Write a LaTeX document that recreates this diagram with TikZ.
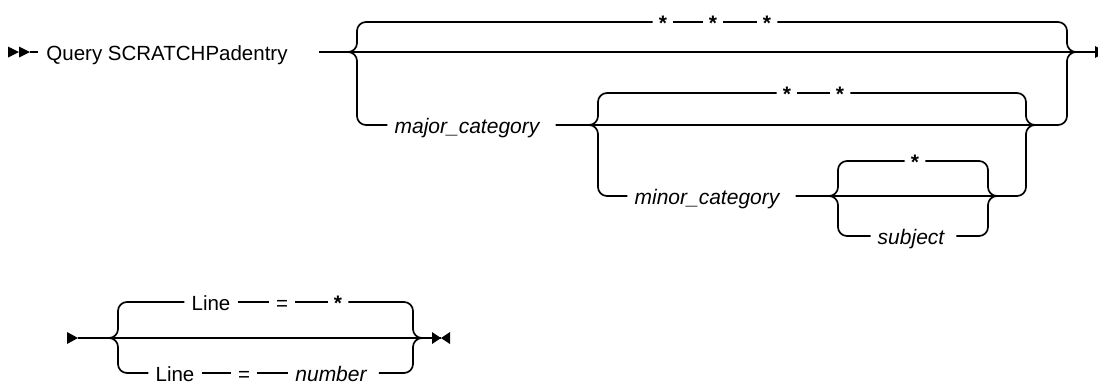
\documentclass[tikz,border=0pt]{standalone}
\usepackage{fontspec}
\setmainfont{Liberation Sans}
\usepackage{tikz}
\usetikzlibrary{calc}

\begin{document}
\begin{tikzpicture}[x=1pt, y=-1pt,
    rail/.style={line width=1.7pt, line join=round},
    brace/.style={rail, rounded corners=9pt},
    lbl/.style={inner xsep=7pt, inner ysep=0pt, text height=16pt, text depth=0pt,
                font=\fontsize{20.5}{24}\selectfont},
    var/.style={lbl, font=\fontsize{21}{24}\selectfont\itshape},
    star/.style={lbl, inner xsep=6pt, font=\fontsize{21}{24}\selectfont\bfseries},
    endmark/.style={fill=black, draw=none}]
    \useasboundingbox (0,0) rectangle (1098,386);

    % Query SCRATCHPadentry row
    \node[lbl] (q) at (167,52) {Query SCRATCHPadentry};
    \fill[endmark] (8,46.5) -- (19,52) -- (8,57.5) -- cycle;
    \fill[endmark] (19,46.5) -- (30,52) -- (19,57.5) -- cycle;
    \draw[rail] (30,52) -- (38,52);

    \coordinate (l1) at (357,52);
    \coordinate (r1) at (1067,52);
    \coordinate (end1) at (1095,52);
    \draw[rail] ([xshift=24pt]q.east) -- (end1);
    \fill[endmark] (1095,46) -- (1098,47.6) -- (1098,56.4) -- (1095,58) -- cycle;

    % * * * branch
    \node[star] (sa1) at (663,22) {*};
    \node[star] (sa2) at (713,22) {*};
    \node[star] (sa3) at (767,22) {*};
    \draw[brace] ([xshift=-15pt]l1) -- (l1) |- (sa1.west);
    \draw[rail] (sa1.east) -- (sa2.west);
    \draw[rail] (sa2.east) -- (sa3.west);
    \draw[brace] (sa3.east) -| (r1) -- ([xshift=15pt]r1);

    % major_category branch
    \node[var] (major) at (467,125) {major\_category};
    \coordinate (l2) at (598,125);
    \coordinate (r2) at (1026,125);
    \draw[brace] ([xshift=-15pt]l1) -- (l1) |- (major.west);
    \draw[brace] ([xshift=9pt]major.east) -- (l2) -- (r1 |- l2) -- (r1) -- ([xshift=15pt]r1);

    % * * branch
    \node[star] (sb1) at (787,93) {*};
    \node[star] (sb2) at (840,93) {*};
    \draw[brace] ([xshift=-15pt]l2) -- (l2) |- (sb1.west);
    \draw[rail] (sb1.east) -- (sb2.west);
    \draw[brace] (sb2.east) -| (r2) -- ([xshift=15pt]r2);

    % minor_category branch
    \node[var] (minor) at (707,196) {minor\_category};
    \coordinate (l3) at (838,196);
    \coordinate (r3) at (988,196);
    \draw[brace] ([xshift=-15pt]l2) -- (l2) |- (minor.west);
    \draw[brace] ([xshift=9pt]minor.east) -- (r2 |- l3) -- (r2) -- ([xshift=15pt]r2);

    % * or subject
    \node[star] (sc) at (915,161) {*};
    \node[var] (subj) at (911,236) {subject};
    \draw[brace] ([xshift=-15pt]l3) -- (l3) |- (sc.west);
    \draw[brace] (sc.east) -| (r3) -- ([xshift=15pt]r3);
    \draw[brace] ([xshift=-15pt]l3) -- (l3) |- (subj.west);
    \draw[brace] ([xshift=5pt]subj.east) -| (r3) -- ([xshift=15pt]r3);

    % Line = * / Line = number
    \coordinate (bl) at (118,338);
    \coordinate (br) at (413,338);
    \coordinate (end2) at (441,338);
    \fill[endmark] (67,332) -- (78,338) -- (67,344) -- cycle;
    \draw[rail] (78,338) -- (end2);
    \fill[endmark] (432,332) -- (441,338) -- (432,344) -- cycle;
    \fill[endmark] (450,332) -- (441,338) -- (450,344) -- cycle;

    \node[lbl] (line1) at (211,302) {Line};
    \node[lbl] (eq1) at (282,302) {=};
    \node[star] (st1) at (338,302) {*};
    \draw[brace] ([xshift=-15pt]bl) -- (bl) |- (line1.west);
    \draw[rail] (line1.east) -- (eq1.west);
    \draw[rail] (eq1.east) -- (st1.west);
    \draw[brace] (st1.east) -| (br) -- ([xshift=15pt]br);

    \node[lbl] (line2) at (175,373) {Line};
    \node[lbl] (eq2) at (244,373) {=};
    \node[var] (num) at (331,373) {number};
    \draw[brace] ([xshift=-15pt]bl) -- (bl) |- (line2.west);
    \draw[rail] (line2.east) -- (eq2.west);
    \draw[rail] (eq2.east) -- (num.west);
    \draw[brace] ([xshift=5pt]num.east) -| (br) -- ([xshift=15pt]br);
\end{tikzpicture}
\end{document}
